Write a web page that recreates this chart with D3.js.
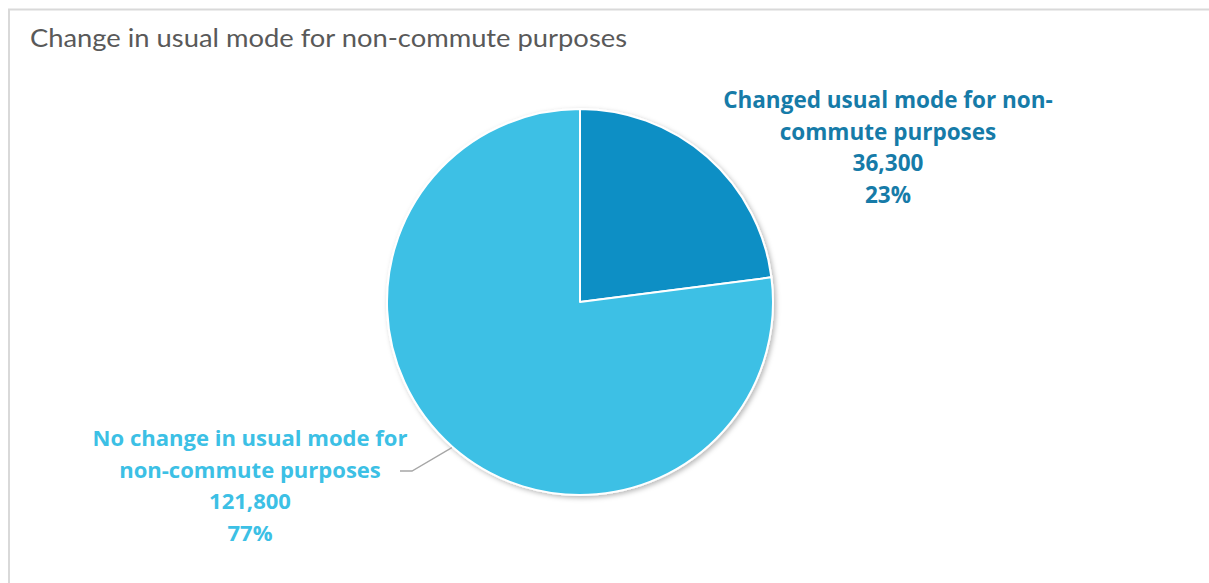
<!DOCTYPE html>
<html>
<head>
<meta charset="utf-8">
<script src="https://cdn.jsdelivr.net/npm/d3@7"></script>
<style>
  html, body { margin: 0; padding: 0; background: #fff; }
  svg { display: block; }
</style>
</head>
<body>
<svg id="chart" width="1209" height="583"></svg>
<script>
// Non-commute travel: respondents who changed their usual mode vs. those who did not
const categories = ["Changed usual mode for non-commute purposes", "No change in usual mode for non-commute purposes"];
const counts = [36300, 121800];
const percents = ["23%", "77%"];
const labelLines = [
  ["Changed usual mode for non-", "commute purposes"],
  ["No change in usual mode for", "non-commute purposes"]
];
const sliceColors = ["#0f8fc5", "#3cc0e5"];
const labelColors = ["#167ba8", "#3cc0e5"];
const title = "Change in usual mode for non-commute purposes";

const W = 1209, H = 583;
const svg = d3.select("#chart");
const fmt = d3.format(",");

// chart frame
svg.append("rect")
  .attr("x", 9).attr("y", 9.5)
  .attr("width", W + 10).attr("height", H + 10)
  .attr("fill", "#fff").attr("stroke", "#d9d9d9").attr("stroke-width", 2);

const defs = svg.append("defs");
const shadow = defs.append("filter").attr("id", "pieShadow")
  .attr("x", "-10%").attr("y", "-10%").attr("width", "125%").attr("height", "125%");
shadow.append("feDropShadow")
  .attr("dx", 2).attr("dy", 2).attr("stdDeviation", 2.5)
  .attr("flood-color", "#000").attr("flood-opacity", 0.28);

// title
svg.append("text")
  .attr("x", 30).attr("y", 47)
  .attr("font-family", "Lato, 'Open Sans', sans-serif")
  .attr("font-size", 24.5)
  .attr("fill", "#595959")
  .attr("textLength", 597).attr("lengthAdjust", "spacingAndGlyphs")
  .text(title);

// pie
const cx = 580, cy = 302, r = 193;
const data = categories.map((c, i) => ({ name: c, value: counts[i], pct: percents[i], i }));
const pie = d3.pie().sort(null).value(d => d.value);
const arcs = pie(data);
const arc = d3.arc().innerRadius(0).outerRadius(r);

const g = svg.append("g").attr("transform", `translate(${cx},${cy})`);
g.append("g").attr("filter", "url(#pieShadow)")
  .selectAll("path").data(arcs).join("path")
  .attr("d", arc)
  .attr("fill", d => sliceColors[d.data.i])
  .attr("stroke", "#fff").attr("stroke-width", 2).attr("stroke-linejoin", "round");

// data labels: name, count and share on separate lines
const labelPos = [
  { x: 888, y: 108, width: 330 },
  { x: 250, y: 446, width: 315 }
];
const lineGap = 31.6;

arcs.forEach(a => {
  const i = a.data.i;
  const p = labelPos[i];
  const lines = [...labelLines[i], fmt(a.data.value), a.data.pct];
  const t = svg.append("text")
    .attr("text-anchor", "middle")
    .attr("font-family", "'Open Sans', Lato, sans-serif")
    .attr("font-weight", "bold")
    .attr("font-size", 20)
    .attr("fill", labelColors[i]);
  const spans = lines.map((ln, j) =>
    t.append("tspan").attr("x", p.x).attr("y", p.y + j * lineGap).text(ln));
  // size the font so the widest line spans the label box
  const w0 = spans[0].node().getComputedTextLength();
  t.attr("font-size", 20 * p.width / w0);
});

// leader line for the large slice
const big = arcs[1];
const mid = (big.startAngle + big.endAngle) / 2;
const ex = cx + Math.sin(mid) * (r + 1);
const ey = cy - Math.cos(mid) * (r + 1);
svg.append("path")
  .attr("d", `M${ex},${ey} L412,471 L400,471`)
  .attr("fill", "none").attr("stroke", "#a6a6a6").attr("stroke-width", 1.3);
</script>
</body>
</html>
